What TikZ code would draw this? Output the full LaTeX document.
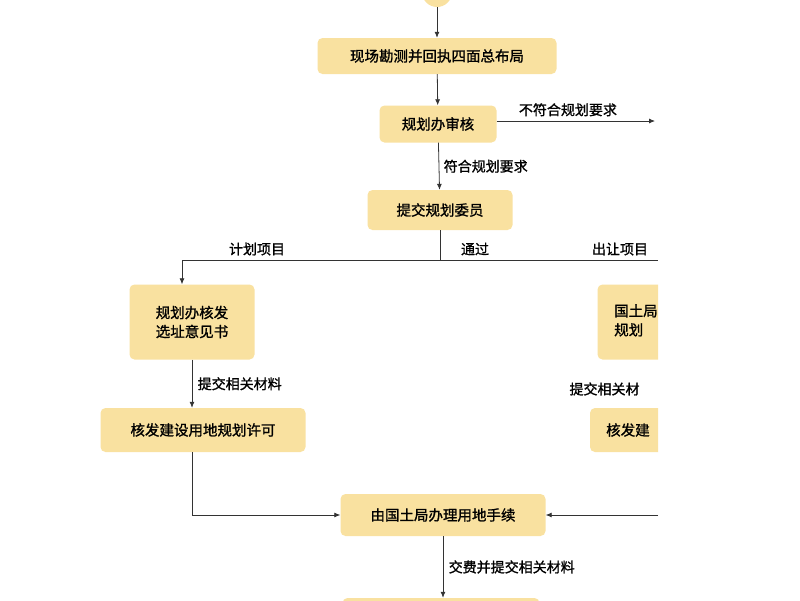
\documentclass[tikz,border=0pt]{standalone}
\usepackage{fontspec}
\setmainfont{Noto Sans CJK SC}[FakeBold=1.2,AutoFakeBold=1.2]
\usetikzlibrary{arrows.meta}
\begin{document}
\begin{tikzpicture}[x=1pt,y=-1pt,
  box/.style={fill=boxc,rounded corners=5pt,inner sep=0pt,font=\fontsize{14.5}{19}\selectfont},
  lab/.style={font=\fontsize{14}{16}\selectfont},
  arr/.style={draw=black!80,line width=0.8pt,-{Latex[length=6pt,width=5pt]}},
  ln/.style={draw=black!80,line width=0.8pt}]
\definecolor{boxc}{HTML}{F9E1A0}
\useasboundingbox[fill=white] (0,0) rectangle (800,600);
\begin{scope}
\clip (0,0) rectangle (658,600);
\node[box,circle,minimum size=30pt] (S) at (437,-8) {};
\node[box,minimum width=239pt,minimum height=36pt] (A) at (437,56) {现场勘测并回执四面总布局};
\node[box,minimum width=117pt,minimum height=37pt] (B) at (438,124) {规划办审核};
\node[box,minimum width=145pt,minimum height=40pt] (C) at (440,210) {提交规划委员};
\node[box,minimum width=125pt,minimum height=75pt,align=left] (D) at (192,322) {规划办核发\\选址意见书};
\node[box,minimum width=205pt,minimum height=44pt] (E) at (203,430) {核发建设用地规划许可};
\node[box,minimum width=125pt,minimum height=75pt] (F) at (660,322) {};
\node[box,anchor=west] (Ft) at (614,322) {\begin{tabular}{@{}l@{}}国土局\\规划\end{tabular}};
\node[box,minimum width=140pt,minimum height=44pt] (G) at (660,430) {};
\node[box,anchor=west] (Gt) at (606,430) {核发建};
\node[box,minimum width=205pt,minimum height=42pt] (H) at (443,515) {由国土局办理用地手续};
\node[box,minimum width=197pt,minimum height=20pt] (I) at (441,608) {};
\coordinate (Bx) at (655,121);
\coordinate (Cj) at (440,260);
\coordinate (L) at (182,260);
\coordinate (R) at (658,260);
\coordinate (Ej) at (192,515);
\coordinate (Hr) at (658,515);
\draw[arr] (S) -- (A);
\draw[arr] (A) -- (B);
\draw[arr] (B.east |- Bx) -- (Bx) node[lab,pos=0.45,above=1pt] {不符合规划要求};
\draw[arr] (B) -- (C) node[lab,midway,right=1pt] {符合规划要求};
\draw[ln] (C) -- (Cj);
\draw[ln] (L) -- (R);
\draw[arr] (L) -- (L |- D.north);
\node[lab] (l1) at (257,249) {计划项目};
\node[lab] (l2) at (475,249) {通过};
\node[lab] (l3) at (620,249) {出让项目};
\draw[arr] (D.south) -- (D.south |- E.north) node[lab,midway,right=2pt] {提交相关材料};
\node[lab,anchor=west] (l4) at (566,389) {提交相关材};
\draw[arr] (E.south -| D.south) -- (Ej) -- (H.west);
\draw[arr] (Hr) -- (H.east);
\draw[arr] (H.south) -- (H.south |- I.north) node[lab,midway,right=2pt] {交费并提交相关材料};
\end{scope}
\end{tikzpicture}
\end{document}
